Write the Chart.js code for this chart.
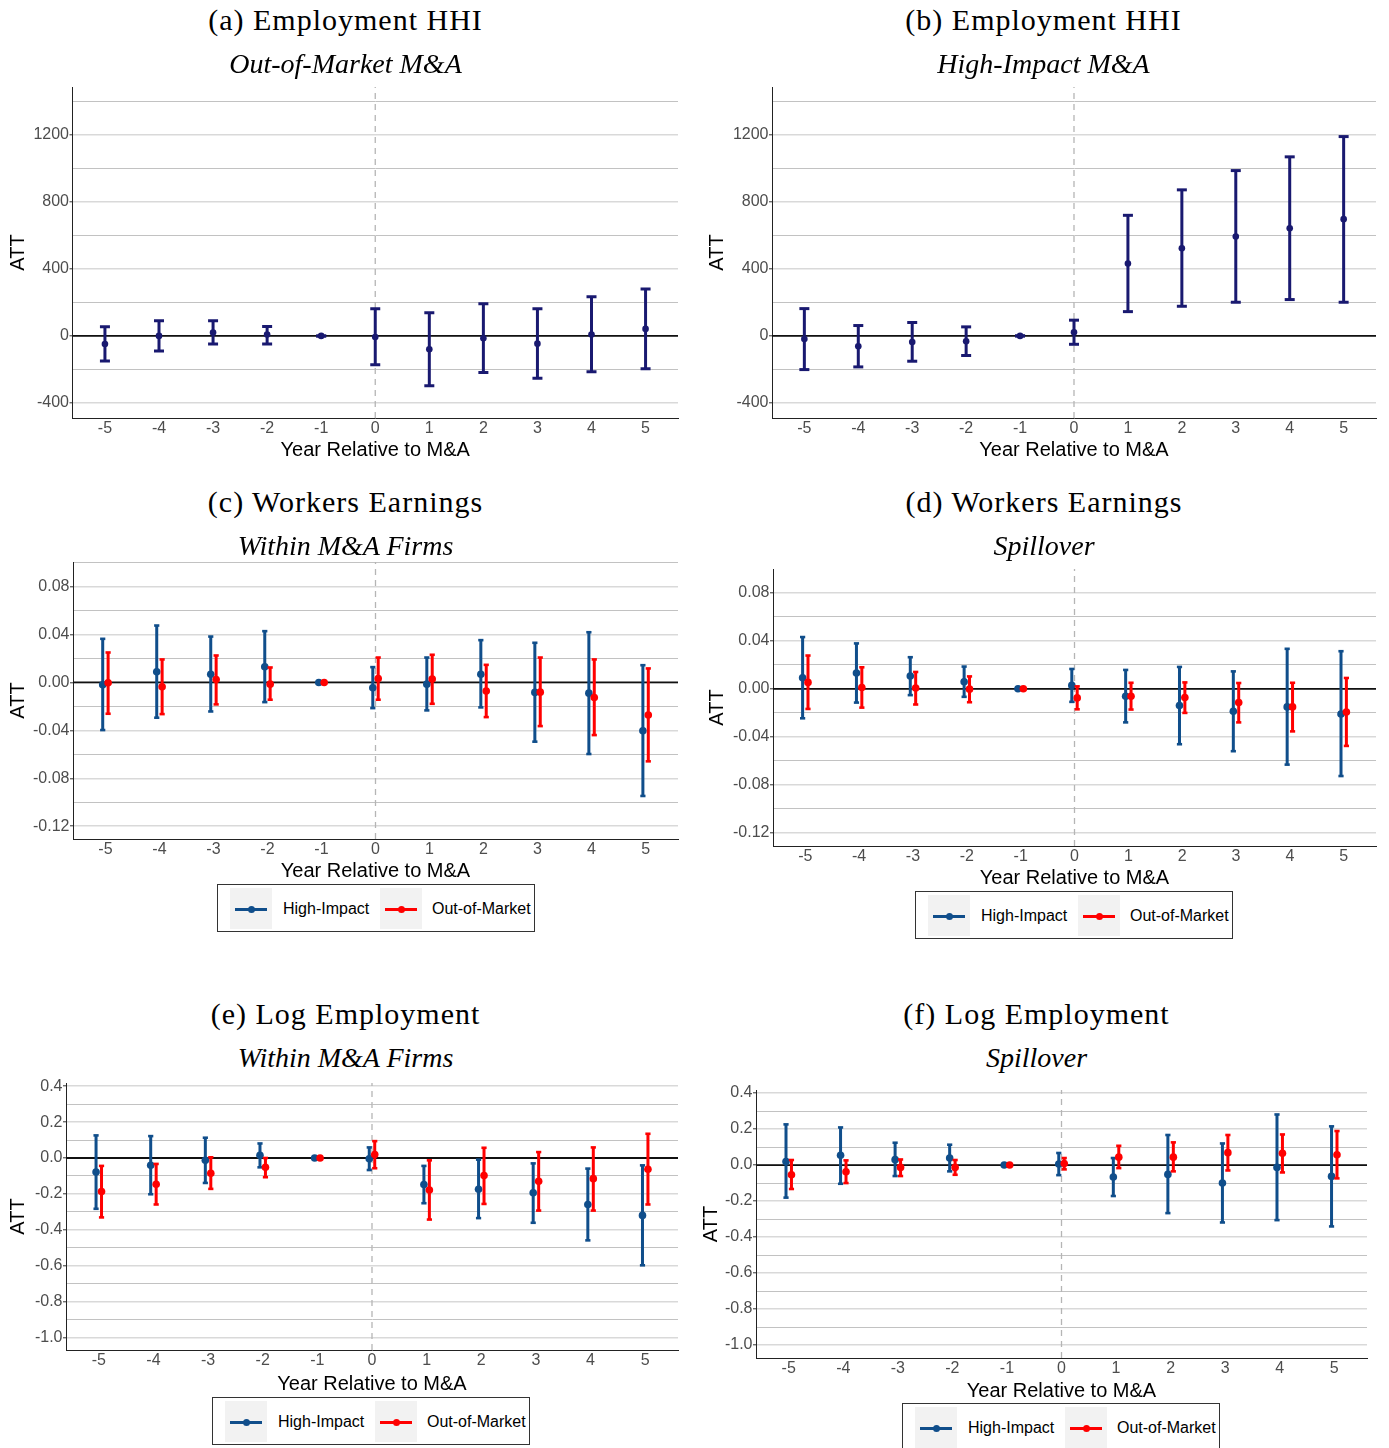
<!DOCTYPE html>
<html><head><meta charset="utf-8">
<script src="https://cdn.jsdelivr.net/npm/chart.js@4.4.1/dist/chart.umd.min.js"></script>
<style>
html,body{margin:0;padding:0;background:#fff}
body{width:1389px;height:1448px;position:relative;overflow:hidden;font-family:"Liberation Sans",Arial,sans-serif}
canvas{position:absolute}
.t{position:absolute;font-family:"Liberation Serif","Times New Roman",serif;font-size:30px;line-height:30px;letter-spacing:1px;white-space:nowrap;transform:translateX(-50%);color:#000}
.st{position:absolute;font-family:"Liberation Serif","Times New Roman",serif;font-style:italic;font-size:28px;line-height:28px;white-space:nowrap;transform:translateX(-50%);color:#000}
.lg{position:absolute;width:316px;height:46px;border:1.3px solid #333;background:#fff}
.key{position:absolute;top:3px;width:42px;height:41px;background:#f2f2f2}
.ln{position:absolute;left:5px;top:19.5px;width:32px;height:3px}
.dot{position:absolute;left:17.5px;top:17.5px;width:7px;height:7px;border-radius:50%}
.lt{position:absolute;top:14px;font-size:16px;line-height:20px;color:#000;white-space:nowrap}
</style>
</head><body>
<script>
// ---------- data ----------
const years = [-5,-4,-3,-2,-1,0,1,2,3,4,5];

// (a) Employment HHI, Out-of-Market M&A
const hhiOutEst = [-48,0,20,8,0,-6,-80,-14,-46,8,42];
const hhiOutLo  = [-150,-90,-48,-48,0,-172,-298,-218,-252,-214,-196];
const hhiOutHi  = [54,90,90,56,0,162,138,192,162,234,280];
// (b) Employment HHI, High-Impact M&A
const hhiHighEst = [-18,-62,-36,-32,0,22,432,523,593,643,697];
const hhiHighLo  = [-201,-185,-151,-117,0,-50,145,177,201,217,201];
const hhiHighHi  = [163,62,80,54,0,94,720,872,987,1069,1190];

// (c) Workers Earnings, Within M&A Firms
const earnWithinHighEst = [-0.0019,0.0089,0.0069,0.0131,0,-0.0044,-0.0014,0.0069,-0.0083,-0.0089,-0.0403];
const earnWithinHighLo  = [-0.0397,-0.0294,-0.0242,-0.0164,0,-0.0214,-0.0233,-0.0208,-0.0494,-0.0597,-0.0947];
const earnWithinHighHi  = [0.0364,0.0475,0.0383,0.0428,0,0.0128,0.0208,0.0353,0.0331,0.0419,0.0144];
const earnWithinOutEst  = [-0.0003,-0.0036,0.0025,-0.0014,0,0.0033,0.0028,-0.0072,-0.0081,-0.0125,-0.0272];
const earnWithinOutLo   = [-0.0261,-0.0264,-0.0183,-0.0144,0,-0.0144,-0.0178,-0.0289,-0.0364,-0.0439,-0.0658];
const earnWithinOutHi   = [0.025,0.0192,0.0225,0.0125,0,0.0208,0.0231,0.0147,0.0208,0.0192,0.0117];

// (d) Workers Earnings, Spillover
const earnSpillHighEst = [0.0092,0.0131,0.0106,0.0059,0,0.0028,-0.0062,-0.014,-0.0187,-0.0151,-0.021];
const earnSpillHighLo  = [-0.0246,-0.0115,-0.0053,-0.0067,0,-0.0109,-0.028,-0.0462,-0.052,-0.0632,-0.0727];
const earnSpillHighHi  = [0.0431,0.0378,0.0263,0.0185,0,0.0165,0.0157,0.0182,0.0145,0.0333,0.0313];
const earnSpillOutEst  = [0.0053,0.0011,0.0006,-0.0003,0,-0.0076,-0.0062,-0.0073,-0.0115,-0.0151,-0.0193];
const earnSpillOutLo   = [-0.0168,-0.0157,-0.0131,-0.0112,0,-0.0171,-0.0173,-0.0201,-0.028,-0.0355,-0.0476];
const earnSpillOutHi   = [0.0277,0.0179,0.014,0.0103,0,0.002,0.005,0.0053,0.0048,0.005,0.009];

// (e) Log Employment, Within M&A Firms
const empWithinHighEst = [-0.078,-0.041,-0.013,0.015,0,-0.004,-0.148,-0.174,-0.194,-0.259,-0.32];
const empWithinHighLo  = [-0.283,-0.202,-0.139,-0.052,0,-0.067,-0.252,-0.335,-0.361,-0.459,-0.598];
const empWithinHighHi  = [0.126,0.122,0.113,0.081,0,0.059,-0.044,-0.009,-0.03,-0.059,-0.041];
const empWithinOutEst  = [-0.187,-0.146,-0.085,-0.052,0,0.019,-0.178,-0.098,-0.13,-0.115,-0.063];
const empWithinOutLo   = [-0.331,-0.259,-0.172,-0.107,0,-0.057,-0.343,-0.256,-0.293,-0.293,-0.259];
const empWithinOutHi   = [-0.044,-0.033,0.004,0,0,0.094,-0.013,0.057,0.033,0.059,0.135];

// (f) Log Employment, Spillover
const empSpillHighEst = [0.02,0.054,0.03,0.039,0,0.006,-0.067,-0.052,-0.1,-0.013,-0.063];
const empSpillHighLo  = [-0.181,-0.104,-0.061,-0.035,0,-0.056,-0.172,-0.267,-0.319,-0.306,-0.341];
const empSpillHighHi  = [0.226,0.209,0.124,0.113,0,0.067,0.039,0.167,0.12,0.281,0.215];
const empSpillOutEst  = [-0.054,-0.037,-0.013,-0.013,0,0.009,0.044,0.044,0.069,0.065,0.057];
const empSpillOutLo   = [-0.133,-0.1,-0.061,-0.054,0,-0.024,-0.017,-0.035,-0.03,-0.041,-0.074];
const empSpillOutHi   = [0.028,0.026,0.031,0.028,0,0.039,0.107,0.126,0.167,0.17,0.189];

// tick labels
const yTicksHHI  = [-400,0,400,800,1200];
const yMinorHHI  = [-200,200,600,1000,1400];
const yTicksEarn = [-0.12,-0.08,-0.04,0,0.04,0.08];
const yMinorEarn = [-0.10,-0.06,-0.02,0.02,0.06,0.10];
const yTicksEmp  = [-1.0,-0.8,-0.6,-0.4,-0.2,0,0.2,0.4];
const yMinorEmp  = [-0.9,-0.7,-0.5,-0.3,-0.1,0.1,0.3];

const xTitle = 'Year Relative to M&A';
const yTitle = 'ATT';
const legendLabels = ['High-Impact','Out-of-Market'];

// ---------- styles ----------
const NAVY = '#191970', BLUE = '#104E8B', RED = '#FF0000';
const FONT = '"Liberation Sans", Arial, sans-serif';
const xMin = -5.6, xMax = 5.6;

function near(arr, v){ return arr.some(m => Math.abs(m - v) < 1e-9); }

function errorSets(est, lo, hi, color, shift, sty){
  const bars = [], caps = [];
  years.forEach((x,i)=>{
    bars.push({x:x+shift,y:lo[i]},{x:x+shift,y:hi[i]},{x:x+shift,y:null});
    caps.push({x:x+shift,y:lo[i]},{x:x+shift,y:hi[i]});
  });
  const pts = years.map((x,i)=>({x:x+shift,y:est[i]}));
  return [
    {type:'line', data:bars, borderColor:color, borderWidth:sty.bw, pointRadius:0, spanGaps:false, fill:false, tension:0},
    {type:'scatter', data:caps, pointStyle:'line', pointRadius:sty.capR, pointHoverRadius:sty.capR, borderWidth:sty.capW, pointBorderWidth:sty.capW, borderColor:color, pointBorderColor:color, backgroundColor:color},
    {type:'scatter', data:pts, pointStyle:'circle', pointRadius:sty.ptR, pointBackgroundColor:color, backgroundColor:color, pointBorderWidth:0, borderWidth:0, borderColor:color}
  ];
}

function makePanel(p){
  const cv = document.createElement('canvas');
  const padTop = 10;
  const h = padTop + (p.B - p.T) + p.xH + 4;
  cv.width = p.cw; cv.height = h;
  cv.style.left = p.cl + 'px'; cv.style.top = (p.T - padTop) + 'px';
  cv.style.width = p.cw + 'px'; cv.style.height = h + 'px';
  document.body.appendChild(cv);

  let sets = [];
  sets.push({type:'line', data:[{x:0,y:p.ymin},{x:0,y:p.ymax}], borderColor:'#b5b5b5', borderWidth:1.3, borderDash:[6,5], pointRadius:0});
  sets.push({type:'line', data:[{x:xMin,y:0},{x:xMax,y:0}], borderColor:'#111', borderWidth:1.8, pointRadius:0});
  p.series.forEach(s => { sets = sets.concat(errorSets(s.est, s.lo, s.hi, s.color, s.shift, p.sty)); });
  const n = sets.length;
  sets.forEach((d,i)=>{ d.order = n - i; });

  const allY = p.major.concat(p.minor).filter(v => v >= p.ymin && v <= p.ymax).sort((a,b)=>a-b);

  new Chart(cv, {
    type:'scatter',
    data:{datasets:sets},
    options:{
      responsive:false, animation:false, devicePixelRatio:1, events:[],
      layout:{padding:{top:padTop, right:p.cl + p.cw - p.R, bottom:4, left:0}},
      plugins:{legend:{display:false}, tooltip:{enabled:false}, title:{display:false}},
      scales:{
        x:{type:'linear', min:xMin, max:xMax, bounds:'data',
          afterBuildTicks: s => { s.ticks = years.map(v=>({value:v})); },
          afterFit: s => { s.height = p.xH; s.paddingLeft = 0; s.paddingRight = 0; },
          grid:{display:false, drawTicks:false},
          border:{display:true, color:'#222', width:1},
          ticks:{color:'#4d4d4d', font:{family:FONT, size:16}, padding:1, maxRotation:0, autoSkip:false, callback:v=>String(v)},
          title:{display:true, text:xTitle, color:'#000', font:{family:FONT, size:20}, padding:{top:0, bottom:4}}
        },
        y:{type:'linear', min:p.ymin, max:p.ymax, bounds:'data',
          afterBuildTicks: s => { s.ticks = allY.map(v=>({value:v})); },
          afterFit: s => { s.width = p.L - p.cl; s.paddingTop = 0; s.paddingBottom = 0; },
          grid:{
            color: c => (c.tick && near(p.major, c.tick.value)) ? '#d9d9d9' : '#c2c2c2',
            lineWidth: c => (c.tick && near(p.major, c.tick.value)) ? 1.6 : 1,
            drawTicks:true, tickLength:3, tickWidth:1,
            tickColor: c => (c.tick && near(p.major, c.tick.value)) ? '#333' : 'rgba(0,0,0,0)'
          },
          border:{display:true, color:'#222', width:1},
          ticks:{color:'#4d4d4d', font:{family:FONT, size:16}, padding:0.5, autoSkip:false,
            callback: v => near(p.major, v) ? Number(v).toFixed(p.dec) : ''},
          title:{display:true, text:yTitle, color:'#000', font:{family:FONT, size:20}, padding:{top:6, bottom:0}}
        }
      }
    }
  });
}

const styHHI = {bw:3, capR:5, capW:3, ptR:3.3};
const styTwo = {bw:3, capR:2.6, capW:2.6, ptR:3.8};
const dodge = 0.05;

makePanel({cl:0, cw:690, L:72.5, T:87, R:678, B:418, xH:48, ymin:-490, ymax:1486, major:yTicksHHI, minor:yMinorHHI, dec:0, sty:styHHI,
  series:[{est:hhiOutEst, lo:hhiOutLo, hi:hhiOutHi, color:NAVY, shift:0}]});
makePanel({cl:699, cw:690, L:772, T:87, R:1376, B:418, xH:48, ymin:-490, ymax:1486, major:yTicksHHI, minor:yMinorHHI, dec:0, sty:styHHI,
  series:[{est:hhiHighEst, lo:hhiHighLo, hi:hhiHighHi, color:NAVY, shift:0}]});
makePanel({cl:0, cw:690, L:73, T:562, R:678, B:839, xH:48, ymin:-0.1306, ymax:0.1005, major:yTicksEarn, minor:yMinorEarn, dec:2, sty:styTwo,
  series:[{est:earnWithinHighEst, lo:earnWithinHighLo, hi:earnWithinHighHi, color:BLUE, shift:-dodge},
          {est:earnWithinOutEst, lo:earnWithinOutLo, hi:earnWithinOutHi, color:RED, shift:dodge}]});
makePanel({cl:699, cw:690, L:773, T:569, R:1376, B:846, xH:48, ymin:-0.131, ymax:0.0998, major:yTicksEarn, minor:yMinorEarn, dec:2, sty:styTwo,
  series:[{est:earnSpillHighEst, lo:earnSpillHighLo, hi:earnSpillHighHi, color:BLUE, shift:-dodge},
          {est:earnSpillOutEst, lo:earnSpillOutLo, hi:earnSpillOutHi, color:RED, shift:dodge}]});
makePanel({cl:0, cw:690, L:66, T:1083, R:678, B:1350, xH:50, ymin:-1.07, ymax:0.418, major:yTicksEmp, minor:yMinorEmp, dec:1, sty:styTwo,
  series:[{est:empWithinHighEst, lo:empWithinHighLo, hi:empWithinHighHi, color:BLUE, shift:-dodge},
          {est:empWithinOutEst, lo:empWithinOutLo, hi:empWithinOutHi, color:RED, shift:dodge}]});
makePanel({cl:693, cw:696, L:756, T:1090, R:1367, B:1358, xH:49, ymin:-1.072, ymax:0.417, major:yTicksEmp, minor:yMinorEmp, dec:1, sty:styTwo,
  series:[{est:empSpillHighEst, lo:empSpillHighLo, hi:empSpillHighHi, color:BLUE, shift:-dodge},
          {est:empSpillOutEst, lo:empSpillOutLo, hi:empSpillOutHi, color:RED, shift:dodge}]});

// ---------- titles ----------
const titles = [
  {t:'(a) Employment HHI', s:'Out-of-Market M&A', x:345.5, dy:0},
  {t:'(b) Employment HHI', s:'High-Impact M&A', x:1043.5, dy:0},
  {t:'(c) Workers Earnings', s:'Within M&A Firms', x:345.5, dy:482},
  {t:'(d) Workers Earnings', s:'Spillover', x:1044, dy:482},
  {t:'(e) Log Employment', s:'Within M&A Firms', x:345.5, dy:994},
  {t:'(f) Log Employment', s:'Spillover', x:1036.5, dy:994}
];
titles.forEach(o=>{
  const a = document.createElement('div'); a.className='t'; a.textContent=o.t;
  a.style.left=o.x+'px'; a.style.top=(5+o.dy)+'px'; document.body.appendChild(a);
  const b = document.createElement('div'); b.className='st'; b.textContent=o.s;
  b.style.left=o.x+'px'; b.style.top=(49.5+o.dy)+'px'; document.body.appendChild(b);
});

// ---------- legends ----------
const legends = [{x:217,y:884},{x:915,y:891},{x:212,y:1397},{x:902,y:1403}];
const legendColors = [BLUE, RED];
legends.forEach(L=>{
  const box = document.createElement('div'); box.className='lg';
  box.style.left=L.x+'px'; box.style.top=L.y+'px';
  const keyX = [12,162], txtX = [65,214];
  legendLabels.forEach((lab,i)=>{
    const k = document.createElement('div'); k.className='key'; k.style.left=keyX[i]+'px';
    const ln = document.createElement('div'); ln.className='ln'; ln.style.background=legendColors[i];
    const dt = document.createElement('div'); dt.className='dot'; dt.style.background=legendColors[i];
    k.appendChild(ln); k.appendChild(dt); box.appendChild(k);
    const t = document.createElement('span'); t.className='lt'; t.textContent=lab; t.style.left=txtX[i]+'px';
    box.appendChild(t);
  });
  document.body.appendChild(box);
});
</script>
</body></html>
